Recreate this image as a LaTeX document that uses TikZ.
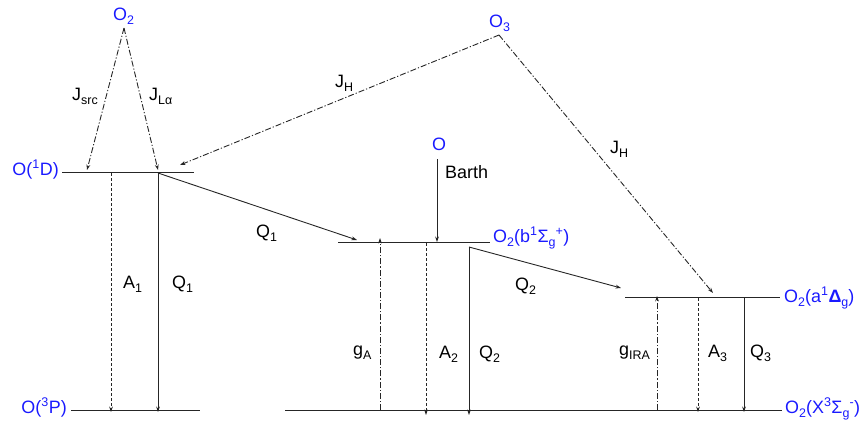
\documentclass[tikz,border=0pt]{standalone}
\usepackage{fontspec}
\setmainfont{Liberation Sans}
\usetikzlibrary{arrows.meta}
\definecolor{stateblue}{HTML}{1A1AFF}
\newcommand\lo[1]{\raisebox{-4.5bp}{\fontsize{12.5}{12.5}\selectfont #1}}
\tikzset{
  every picture/.style={line join=round, >={Stealth[length=5.5bp,width=3.8bp]}},
  txt/.style={font=\fontsize{18}{20}\selectfont, inner sep=0pt},
  state/.style={txt, text=stateblue},
  lvl/.style={line width=0.9bp, black!85},
  rate/.style={->, line width=0.9bp, black!85},
  rad/.style={rate, dash pattern=on 3bp off 2bp},
  phot/.style={rate, dash pattern=on 6bp off 2bp on 1.2bp off 2bp},
}

\begin{document}
\begin{tikzpicture}[x=1bp,y=-1bp]
\useasboundingbox (0,0) rectangle (865,421);
% levels
\coordinate (D1l) at (62,172);  \coordinate (D1r) at (194,172);
\coordinate (P3l) at (71,410);  \coordinate (P3r) at (200,410);
\coordinate (bl) at (338,242);  \coordinate (br) at (490,242);
\coordinate (al) at (625,297);  \coordinate (ar) at (780,297);
\coordinate (Xl) at (285,410);  \coordinate (Xr) at (782,410);
\draw[lvl] (D1l) -- (D1r);
\draw[lvl] (P3l) -- (P3r);
\draw[lvl] (bl) -- (br);
\draw[lvl] (al) -- (ar);
\draw[lvl] (Xl) -- (Xr);
\node[state, anchor=base east] (nD1) at (59,175) {O(\textsuperscript{1}D)};
\node[state, anchor=base east] (nP3) at (67,413) {O(\textsuperscript{3}P)};
\node[state, anchor=base west] (nb) at (493,242) {O\lo{2}(b\textsuperscript{1}Σ\lo{g}\textsuperscript{+})};
\node[state, anchor=base west] (na) at (784,302) {O\lo{2}(a\textsuperscript{1}\textbf{Δ}\lo{g})};
\node[state, anchor=base west] (nX) at (785,413) {O\lo{2}(X\textsuperscript{3}Σ\lo{g}\textsuperscript{-})};
% sources
\node[state, anchor=base west] (o2) at (113,20) {O\lo{2}};
\node[state, anchor=base west] (o3) at (489,27) {O\lo{3}};
\node[state, anchor=base west] (o) at (432,150) {O};
\coordinate (o2tip) at (124,28);
\coordinate (o3tip) at (499,35);
\coordinate (srcend) at (87,170);
\coordinate (laend) at (158,170);
\coordinate (jh1end) at (180,165);
\coordinate (jh2end) at (713,293);
\draw[phot] (o2tip) -- (srcend);
\draw[phot] (o2tip) -- (laend);
\draw[phot] (o3tip) -- (jh1end);
\draw[phot] (o3tip) -- (jh2end);
\node[txt, anchor=base west] (jsrc) at (72,100) {J\lo{src}};
\node[txt, anchor=base west] (jla) at (149,100) {J\lo{Lα}};
\node[txt, anchor=base west] (jh1) at (335,87) {J\lo{H}};
\node[txt, anchor=base west] (jh2) at (610,153) {J\lo{H}};
\coordinate (barth) at (437,159);
\draw[rate] (barth) -- (barth |- bl);
\node[txt, anchor=base west] (nbarth) at (445,178) {Barth};
% transitions
\coordinate (A1) at (111,173);
\coordinate (Q1) at (158,173);
\coordinate (gA) at (380,410);
\coordinate (A2) at (426,243);
\coordinate (Q2) at (469,247);
\coordinate (gI) at (657,410);
\coordinate (A3) at (698,298);
\coordinate (Q3) at (744,298);
\draw[rad] (A1) -- ([yshift=-2bp]A1 |- P3l);
\draw[rate] (Q1) -- ([yshift=-2bp]Q1 |- P3l);
\draw[phot] (gA) -- ([yshift=4bp]gA |- bl);
\draw[rad] (A2) -- ([yshift=-5bp]A2 |- Xl);
\draw[rate] (Q2) -- ([yshift=-5bp]Q2 |- Xl);
\draw[phot] (gI) -- ([yshift=1bp]gI |- al);
\draw[rad] (A3) -- ([yshift=-2bp]A3 |- Xl);
\draw[rate] (Q3) -- ([yshift=-2bp]Q3 |- Xl);
\coordinate (q1end) at (357,240);
\coordinate (q2end) at (621,288);
\draw[rate] (Q1) -- (q1end);
\draw[rate] (Q2) -- (q2end);
\node[txt, anchor=base west] (la1) at (123,288) {A\lo{1}};
\node[txt, anchor=base west] (lq1) at (172,288) {Q\lo{1}};
\node[txt, anchor=base west] (lq1d) at (256,237) {Q\lo{1}};
\node[txt, anchor=base west] (lga) at (353,355) {g\lo{A}};
\node[txt, anchor=base west] (la2) at (439,358) {A\lo{2}};
\node[txt, anchor=base west] (lq2) at (479,358) {Q\lo{2}};
\node[txt, anchor=base west] (lq2d) at (515,290) {Q\lo{2}};
\node[txt, anchor=base west] (lgi) at (619,355) {g\lo{IRA}};
\node[txt, anchor=base west] (la3) at (708,357) {A\lo{3}};
\node[txt, anchor=base west] (lq3) at (750,357) {Q\lo{3}};
\end{tikzpicture}
\end{document}
